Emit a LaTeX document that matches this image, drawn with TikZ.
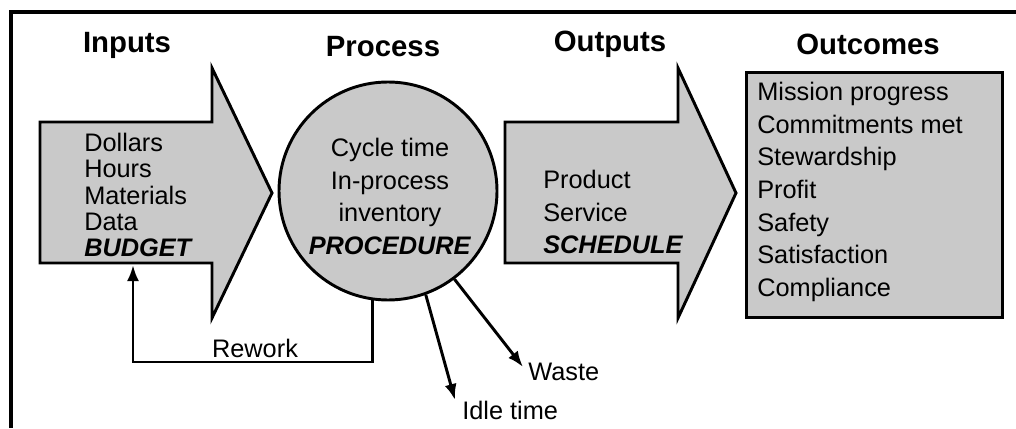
\documentclass[tikz,border=0pt]{standalone}
\usepackage{fontspec}
\setmainfont{Liberation Sans}
\usetikzlibrary{arrows.meta}

\definecolor{shade}{RGB}{201,201,201}

\tikzset{
  heading/.style={font=\fontsize{22}{26}\selectfont\bfseries, anchor=base},
  listing/.style={align=left},
  blob/.style={draw, fill=shade, line width=2.2pt, line join=miter},
  flow/.style={-{Latex[length=12pt,width=9pt]}, line width=2.2pt},
}

\begin{document}
\begin{tikzpicture}[x=0.75pt, y=-0.75pt, inner sep=0pt, font=\fontsize{19}{24.5}\selectfont]
  \useasboundingbox (0,0) rectangle (1016,428);
  % frame, cut off at the right and at the bottom
  \draw[line width=2.6pt] (11,428) -- (11,12) -- (1016,12);

  % column headings
  \node[heading] (hin)   at (127,53) {Inputs};
  \node[heading] (hproc) at (383,57) {Process};
  \node[heading] (hout)  at (610,51) {Outputs};
  \node[heading] (hgain) at (868,55) {Outcomes};

  % the two fat arrows
  \draw[blob] (40,122) -- (212,122) -- (212,68) -- (272,193) -- (212,318) -- (212,263) -- (40,263) -- cycle;
  \draw[blob] (505,122) -- (678,122) -- (678,68) -- (736,193) -- (678,318) -- (678,263) -- (505,263) -- cycle;

  % process circle and outcome box
  \node[blob, circle, minimum size=163.5pt] (proc) at (388,191) {};
  \node[blob, rectangle, minimum width=192pt, minimum height=183.75pt, anchor=north west] (gain) at (745,71) {};

  % what each step holds
  \node[listing, font=\fontsize{19}{19.7}\selectfont, anchor=north west] (inlist) at (84,133)
    {Dollars\\Hours\\Materials\\Data\\\textbf{\textit{BUDGET}}};
  \node[listing, align=center, anchor=north] (proclist) at (390,138)
    {Cycle time\\In-process\\inventory\\\textbf{\textit{PROCEDURE}}};
  \node[listing, anchor=north west] (outlist) at (543,170)
    {Product\\Service\\\textbf{\textit{SCHEDULE}}};
  \node[listing, anchor=north west] (gainlist) at (757,82)
    {Mission progress\\Commitments met\\Stewardship\\Profit\\Safety\\Satisfaction\\Compliance};

  % rework goes back to the inputs
  \coordinate (inbot) at (133,265);
  \coordinate (rwturn) at (133,362);
  \draw[flow] (proc.-98) |- (rwturn) -- (inbot);
  \node (rework) at (255,348) {Rework};

  % losses
  \coordinate (idletip) at (455,400);
  \coordinate (wastetip) at (523,367);
  \draw[flow] (proc.-70) -- (idletip);
  \draw[flow] (proc.-53) -- (wastetip);
  \node[anchor=west] (idle) at (462,410) {Idle time};
  \node[anchor=west] (waste) at (528,372) {Waste};
\end{tikzpicture}
\end{document}
